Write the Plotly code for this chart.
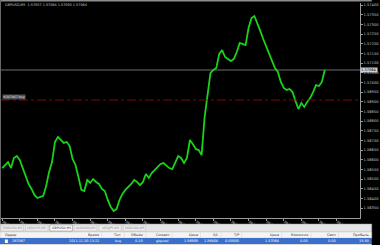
import plotly.graph_objects as go
import pandas as pd

# ---------------- data ----------------
symbol = "GBPUSD,M5"
start_time = "2011-11-30 09:15"
closes = [
    1.56557, 1.56573, 1.56588, 1.56557, 1.56609, 1.56619, 1.56599, 1.56557, 1.56511, 1.56475,
    1.56449, 1.56418, 1.56402, 1.56407, 1.56413, 1.56464, 1.56537, 1.56588, 1.56692, 1.56718,
    1.56702, 1.56687, 1.56692, 1.56671, 1.56604, 1.56573, 1.56511, 1.56444, 1.56438, 1.56495,
    1.56480, 1.56500, 1.56485, 1.56475, 1.56449, 1.56438, 1.56392, 1.56356, 1.56335, 1.56345,
    1.56392, 1.56423, 1.56444, 1.56459, 1.56475, 1.56495, 1.56485, 1.56469, 1.56485, 1.56526,
    1.56506, 1.56531, 1.56547, 1.56562, 1.56578, 1.56583, 1.56568, 1.56557, 1.56552, 1.56588,
    1.56619, 1.56609, 1.56583, 1.56609, 1.56702, 1.56681, 1.56656, 1.56650, 1.56624, 1.56816,
    1.56945, 1.57048, 1.57064, 1.57074, 1.57147, 1.57167, 1.57131, 1.57121, 1.57110, 1.57121,
    1.57157, 1.57204, 1.57198, 1.57193, 1.57281, 1.57333, 1.57343, 1.57307, 1.57266, 1.57224,
    1.57188, 1.57152, 1.57116, 1.57074, 1.57054, 1.57002, 1.56971, 1.56961, 1.56966, 1.56950,
    1.56904, 1.56862, 1.56893, 1.56873, 1.56899, 1.56919, 1.56950, 1.56986, 1.56981, 1.57002,
    1.57064,
]
bid_price = 1.57064
order_price = 1.56909
order_label = "#267067 buy"
header_values = ["1.57057", "1.57064", "1.57050", "1.57064"]
price_ticks = [round(1.5635 + 0.0005 * k, 4) for k in range(22)]
time_tick_step = 6  # bars between time labels

tabs = ["EURUSD,M5", "USDCHF,M5", "GBPUSD,M5", "AUDUSD,M5", "USDJPY,M5", "USDCAD,M5"]
active_tab = "GBPUSD,M5"
columns = ["Ордер", "Время", "Тип", "Объём", "Символ", "Цена", "S/L", "T/P", "Цена", "Комиссия", "Своп", "Прибыль"]
row_values = ["267067", "2011.11.30 13:22", "buy", "0.10", "gbpusd", "1.56909", "1.56404",
              "0.00000", "1.57064", "0.00", "0.00", "15.50"]

# ---------------- layout geometry ----------------
W, H = 380, 245
ML, MR, MT, MB = 1, 12, 3, 27
PW, PH = W - ML - MR, H - MT - MB


def px(x):
    return (x - ML) / PW


def py(y):
    return (H - MB - y) / PH


times = pd.date_range(start_time, periods=len(closes), freq="5min")
bar = pd.Timedelta("5min")
x_range = [times[0] - bar * 0.4, times[0] + bar * 122]
tick_idx = list(range(0, len(closes) + 8, time_tick_step))
tick_times = [times[0] + bar * i for i in tick_idx]
tick_text = [t.strftime("%d Nov %H:%M") for t in tick_times]

FONT = "DejaVu Sans"
fig = go.Figure()
fig.add_trace(go.Scatter(x=times, y=closes, mode="lines",
                         line=dict(color="#18d418", width=1.8), hoverinfo="skip"))

shapes = []
# bid line and order line
shapes.append(dict(type="line", xref="paper", yref="y", x0=0, x1=1, y0=bid_price, y1=bid_price,
                   line=dict(color="#8a8a8a", width=0.8)))
shapes.append(dict(type="line", xref="paper", yref="y", x0=0, x1=1, y0=order_price, y1=order_price,
                   line=dict(color="#b00000", width=0.8, dash="dashdot")))
# top window border
shapes.append(dict(type="rect", xref="paper", yref="paper", x0=px(0), x1=px(W), y0=py(1.5), y1=py(0),
                   fillcolor="#8c8c8c", line=dict(width=0), layer="above"))
# left border
shapes.append(dict(type="rect", xref="paper", yref="paper", x0=px(0), x1=px(1), y0=py(224), y1=py(0),
                   fillcolor="#6a6a6a", line=dict(width=0), layer="above"))
# tabs strip
shapes.append(dict(type="rect", xref="paper", yref="paper", x0=px(0), x1=px(W), y0=py(232), y1=py(224),
                   fillcolor="#e4e4e4", line=dict(color="#a0a0a0", width=0.5)))
# header row
shapes.append(dict(type="rect", xref="paper", yref="paper", x0=px(0), x1=px(W), y0=py(238), y1=py(232),
                   fillcolor="#f4f4f4", line=dict(color="#c8c8c8", width=0.5)))
# selected row
shapes.append(dict(type="rect", xref="paper", yref="paper", x0=px(0), x1=px(W), y0=py(244), y1=py(238),
                   fillcolor="#3c6fc8", line=dict(width=0)))
shapes.append(dict(type="rect", xref="paper", yref="paper", x0=px(0), x1=px(W), y0=py(245), y1=py(244),
                   fillcolor="#dcdcdc", line=dict(width=0)))
# row icon
shapes.append(dict(type="rect", xref="paper", yref="paper", x0=px(5), x1=px(8), y0=py(243), y1=py(239.5),
                   fillcolor="#ffffff", line=dict(width=0)))

annotations = []
# title
annotations.append(dict(xref="paper", yref="paper", x=px(3), y=py(4.5), xanchor="left", yanchor="middle",
                        text=symbol + "  " + " ".join(header_values), showarrow=False,
                        font=dict(family=FONT, size=3.4, color="#c8c8c8")))
# order label
annotations.append(dict(xref="paper", yref="y", x=px(2), y=order_price, xanchor="left", yanchor="bottom",
                        text=order_label, showarrow=False, bgcolor="#505050", borderpad=0,
                        font=dict(family=FONT, size=3.2, color="#e8e8e8")))
# bid label on the price scale
annotations.append(dict(xref="paper", yref="y", x=1.0, y=bid_price, xanchor="left", yanchor="middle",
                        text=f"{bid_price:.5f}", showarrow=False, bgcolor="#d0d0d0", borderpad=0,
                        font=dict(family=FONT, size=3.6, color="#000000")))

# tabs
tab_w = 25
for k, name in enumerate(tabs):
    x0 = 1 + k * tab_w
    active = name == active_tab
    shapes.append(dict(type="rect", xref="paper", yref="paper", x0=px(x0), x1=px(x0 + tab_w - 2),
                       y0=py(231), y1=py(225),
                       fillcolor="#ffffff" if active else "#ececec",
                       line=dict(color="#7a7a7a" if active else "#bdbdbd", width=0.5)))
    annotations.append(dict(xref="paper", yref="paper", x=px(x0 + (tab_w - 2) / 2), y=py(228),
                            xanchor="center", yanchor="middle", text=name, showarrow=False,
                            font=dict(family=FONT, size=3.2, color="#202020" if active else "#8a8a8a")))

# table columns (right edges)
col_right = [None, 104, 127, 149, 176, 205, 226, 247, 288, 318, 346, 380]
for k, (c, v) in enumerate(zip(columns, row_values)):
    if k == 0:
        annotations.append(dict(xref="paper", yref="paper", x=px(3), y=py(235), xanchor="left",
                                yanchor="middle", text=c, showarrow=False,
                                font=dict(family=FONT, size=3.4, color="#303030")))
        annotations.append(dict(xref="paper", yref="paper", x=px(10), y=py(241), xanchor="left",
                                yanchor="middle", text=v, showarrow=False,
                                font=dict(family=FONT, size=3.4, color="#ffffff")))
    else:
        xr = col_right[k]
        annotations.append(dict(xref="paper", yref="paper", x=px(xr - 1), y=py(235), xanchor="right",
                                yanchor="middle", text=c, showarrow=False,
                                font=dict(family=FONT, size=3.4, color="#303030")))
        annotations.append(dict(xref="paper", yref="paper", x=px(xr - 1), y=py(241), xanchor="right",
                                yanchor="middle", text=v, showarrow=False,
                                font=dict(family=FONT, size=3.4, color="#ffffff")))
        if xr < W:
            shapes.append(dict(type="line", xref="paper", yref="paper", x0=px(xr), x1=px(xr),
                               y0=py(237.5), y1=py(232.5), line=dict(color="#d0d0d0", width=0.5)))

fig.update_layout(
    width=W, height=H,
    margin=dict(l=ML, r=MR, t=MT, b=MB, pad=0),
    paper_bgcolor="#000000", plot_bgcolor="#000000",
    showlegend=False,
    shapes=shapes, annotations=annotations,
    xaxis=dict(range=x_range, tickvals=tick_times, ticktext=tick_text, showgrid=False, zeroline=False,
               ticks="outside", ticklen=2, tickcolor="#9a9a9a", tickwidth=0.5,
               ticklabelposition="outside right", ticklabelstandoff=0,
               tickfont=dict(family=FONT, size=3.3, color="#d0d0d0"),
               showline=True, linecolor="#9a9a9a", linewidth=0.6),
    yaxis=dict(side="right", range=[py_lo := 1.5740 - 213 * 0.0000517, 1.5740 + 2 * 0.0000517],
               tickvals=price_ticks, ticktext=[f"{v:.5f}" for v in price_ticks],
               showgrid=False, zeroline=False, ticks="outside", ticklen=2, tickcolor="#9a9a9a",
               tickwidth=0.5, tickfont=dict(family=FONT, size=3.6, color="#c8c8c8"),
               showline=True, linecolor="#9a9a9a", linewidth=0.8),
)

fig.write_html("out.html")
